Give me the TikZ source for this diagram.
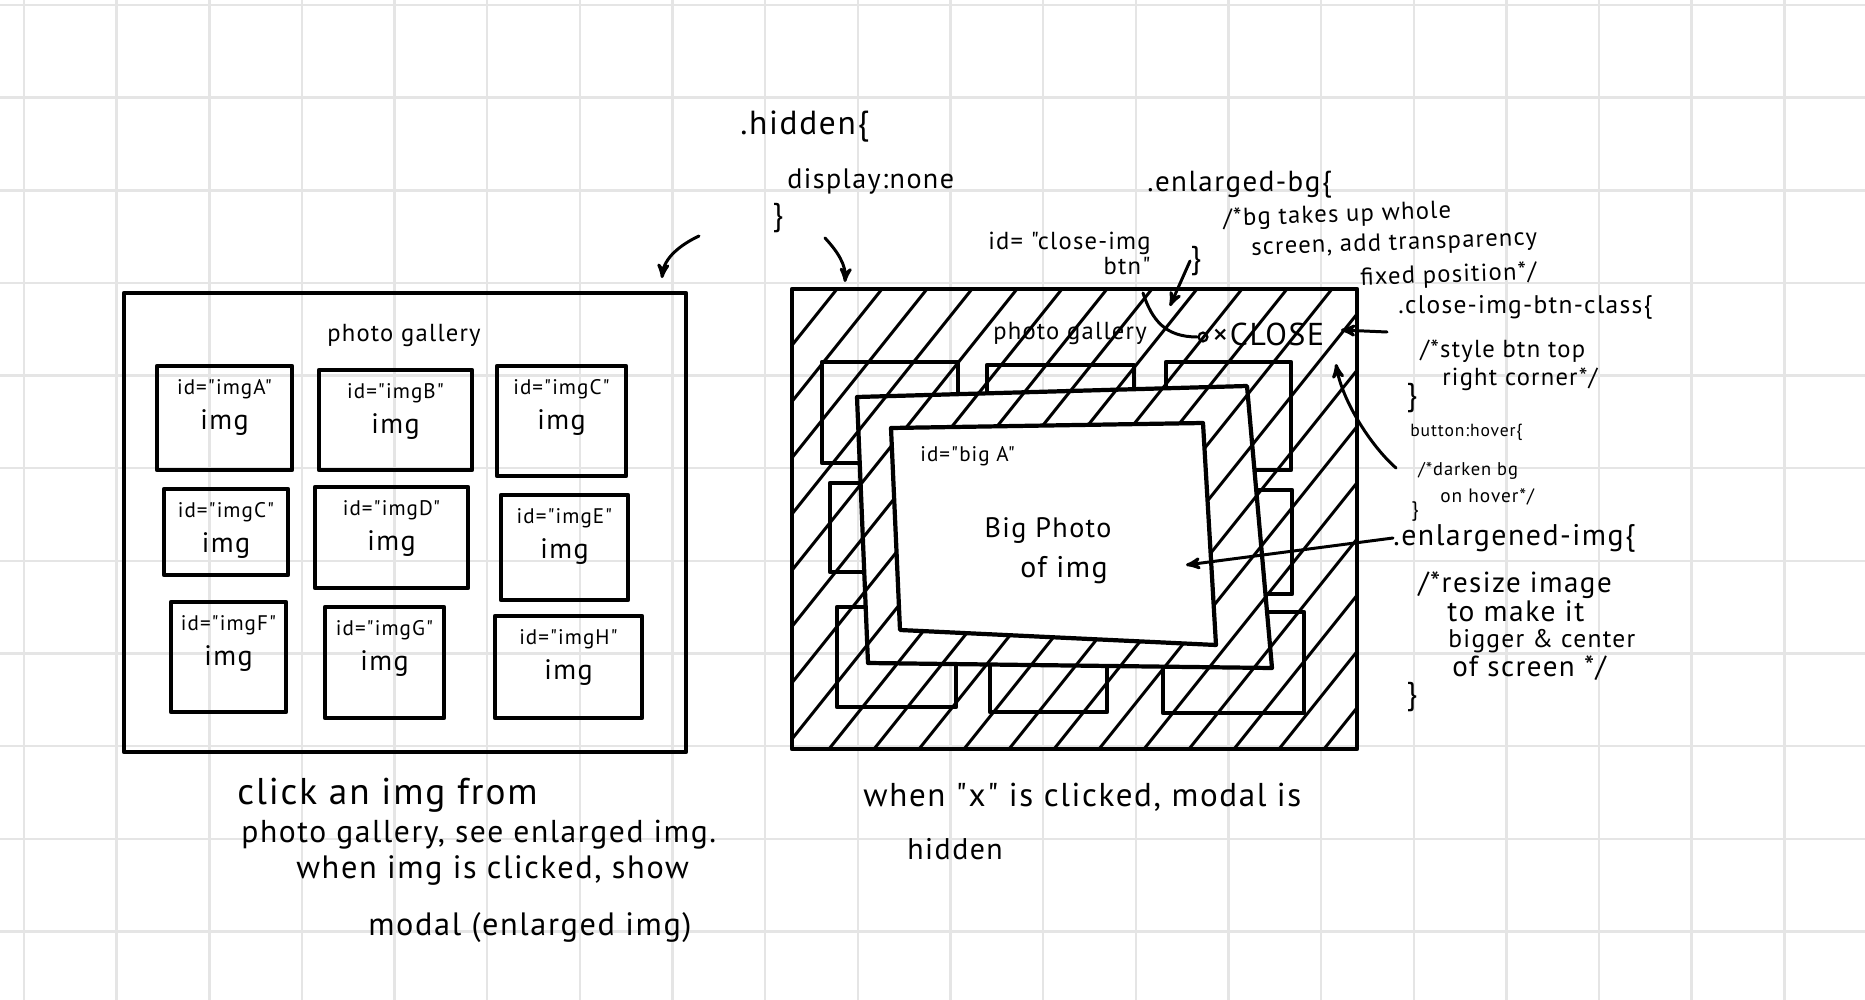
\documentclass[tikz,border=0pt]{standalone}
\usepackage{fontspec}
\newfontfamily\handfont{PT Sans}[LetterSpace=5]
\usetikzlibrary{arrows}

\newcommand{\fs}[1]{\handfont\fontsize{#1}{#1}\selectfont}
\tikzset{
    pen/.style={line width=2.4pt, line cap=round, line join=round},
    thinpen/.style={line width=1.7pt, line cap=round},
    gridline/.style={gray!20, line width=1.4pt},
    hand/.style={anchor=west},
}

\begin{document}
\begin{tikzpicture}[>=stealth', x=0.2mm, y=-0.2mm, every node/.style={inner sep=0pt}]
\useasboundingbox (0,0) rectangle (1865,1000);

%\draw[xstep=1cm,ystep=1cm,color=gray!80] (0, -1) grid (8, 8);
    \foreach \k in {0,...,19}
        \draw[gridline] (24+92.65*\k, 0) -- (24+92.65*\k, 1000);
    \foreach \k in {0,...,10}
        \draw[gridline] (0, 5+92.65*\k) -- (1865, 5+92.65*\k);

% gallery page
\draw[pen] (124,293) rectangle (686,752);
\node[font=\fs{14}] (galTitle) at (404,335) {photo gallery};
    \foreach \n/\lbl/\xa/\ya/\xb/\yb in {1/A/157/366/292/470, 2/B/319/370/472/470, 3/C/497/366/626/476,
            4/C/164/489/288/575, 5/D/315/487/468/588, 6/E/501/495/628/600,
            7/F/171/602/286/712, 8/G/325/607/444/718, 9/H/495/616/642/718}
        {
        \draw[pen] (\xa,\ya) rectangle (\xb,\yb);
        \node[font=\fs{12}] (id\n) at ({(\xa+\xb)/2}, \ya+23) {id="img\lbl"};
        \node[font=\fs{16}] (im\n) at ({(\xa+\xb)/2}, \ya+57) {img};
        }

% modal page
    \foreach \xa/\ya/\xb/\yb in {822/362/958/463, 987/365/1134/465, 1166/362/1291/470,
            830/483/955/572, 1170/490/1292/594,
            837/607/956/707, 990/610/1107/712, 1163/612/1304/713}
        \draw[pen] (\xa,\ya) rectangle (\xb,\yb);
\draw[pen, fill=white] (857,397) -- (1247,386) -- (1272,668) -- (868,663) -- cycle;
\begin{scope}[even odd rule]
    \clip (792,289) rectangle (1357,749)
        (891,428) -- (1203,423) -- (1216,645) -- (900,630) -- cycle;
    \foreach \k in {0,...,21}
        \draw[thinpen] (424+45*\k, 749) -- ++(368,-460);
\end{scope}
\draw[pen] (891,428) -- (1203,423) -- (1216,645) -- (900,630) -- cycle;
\draw[pen] (792,289) rectangle (1357,749);

\node[font=\fs{14}] (modalTitle) at (1070,333) {photo gallery};
\node[hand, font=\fs{18}] (closeBtn) at (1212,334) {×CLOSE};
\node[draw, circle, line width=1.3pt, minimum size=5pt] (closeDot) at (1203,337) {};
\node[hand, font=\fs{12}] (bigId) at (920,456) {id="big A"};
\node[font=\fs{16}] (bigPhoto) at (1048,531) {Big Photo};
\node[font=\fs{17}] (bigOf) at (1064,570) {of img};

% .hidden
\node[hand, font=\fs{19}] (hidRule) at (740,127) {.hidden\{};
\node[hand, font=\fs{16}] (hidDisp) at (787,181) {display:none};
\node[hand, font=\fs{18}] (hidEnd) at (772,218) {\}};
\coordinate (hidL) at (699,236);
\coordinate (galCorner) at (662,278);
\coordinate (hidR) at (825,238);
\coordinate (modalCorner) at (845,282);
\draw[->, thinpen] (hidL) .. controls (680,245) and (664,258) .. (galCorner);
\draw[->, thinpen] (hidR) .. controls (838,252) and (846,265) .. (modalCorner);

% .enlarged-bg
\node[hand, font=\fs{16.5}] (bgRule) at (1147,185) {.enlarged-bg\{};
\node[hand, font=\fs{14}, rotate=2] (bgNoteA) at (1223,220) {/*bg takes up whole};
\node[hand, font=\fs{14}, rotate=2] (bgNoteB) at (1251,249) {screen, add transparency};
\node[hand, font=\fs{14}, rotate=2] (bgNoteC) at (1360,279) {fixed position*/};
\node[hand, font=\fs{18}] (bgEnd) at (1190,261) {\}};
\coordinate (bgTip) at (1170,306);
\draw[->, thinpen] (bgEnd.west) -- (bgTip);

% close button
\node[font=\fs{14}, align=right, anchor=north east] (closeId) at (1151,232) {id= "close-img\\btn"};
\coordinate (closeArc) at (1143,293);
\draw[thinpen] (closeArc) .. controls (1152,320) and (1165,337) .. (closeDot.west);

\node[hand, font=\fs{14.5}] (btnRule) at (1398,307) {.close-img-btn-class\{};
\node[hand, font=\fs{14}] (btnNoteA) at (1420,351) {/*style btn top};
\node[hand, font=\fs{14}] (btnNoteB) at (1442,379) {right corner*/};
\node[hand, font=\fs{18}] (btnEnd) at (1406,398) {\}};
\coordinate (btnFrom) at (1387,332);
\coordinate (closeTip) at (1341,330);
\draw[->, thinpen] (btnFrom) -- (closeTip);

\node[hand, font=\fs{10}] (hoverRule) at (1410,432) {button:hover\{};
\node[hand, font=\fs{10.5}] (hoverNoteA) at (1418,471) {/*darken bg};
\node[hand, font=\fs{11}] (hoverNoteB) at (1440,497) {on hover*/};
\node[hand, font=\fs{12}] (hoverEnd) at (1411,512) {\}};
\coordinate (hoverFrom) at (1396,468);
\coordinate (hoverTip) at (1336,364);
\draw[->, thinpen] (hoverFrom) .. controls (1370,445) and (1342,400) .. (hoverTip);

% .enlargened-img
\node[hand, font=\fs{17}] (imgRule) at (1393,538) {.enlargened-img\{};
\node[hand, font=\fs{16.5}] (imgNoteA) at (1418,585) {/*resize image};
\node[hand, font=\fs{16.8}] (imgNoteB) at (1447,611) {to make it};
\node[hand, font=\fs{14.5}] (imgNoteC) at (1448,641) {bigger \& center};
\node[hand, font=\fs{16.5}] (imgNoteD) at (1452,668) {of screen */};
\node[hand, font=\fs{18}] (imgEnd) at (1406,697) {\}};
\coordinate (imgTip) at (1186,565);
\draw[->, thinpen] (imgRule.west) -- (imgTip);

% captions
\node[hand, font=\fs{21.2}] (capL1) at (237,795) {click an img from};
\node[hand, font=\fs{18}] (capL2) at (241,835) {photo gallery, see enlarged img.};
\node[hand, font=\fs{18.4}] (capL3) at (296,870) {when img is clicked, show};
\node[hand, font=\fs{18.4}] (capL4) at (368,928) {modal (enlarged img)};
\node[hand, font=\fs{18.8}] (capR1) at (863,797) {when "x" is clicked, modal is};
\node[hand, font=\fs{17}] (capR2) at (907,849) {hidden};

\end{tikzpicture}
\end{document}
